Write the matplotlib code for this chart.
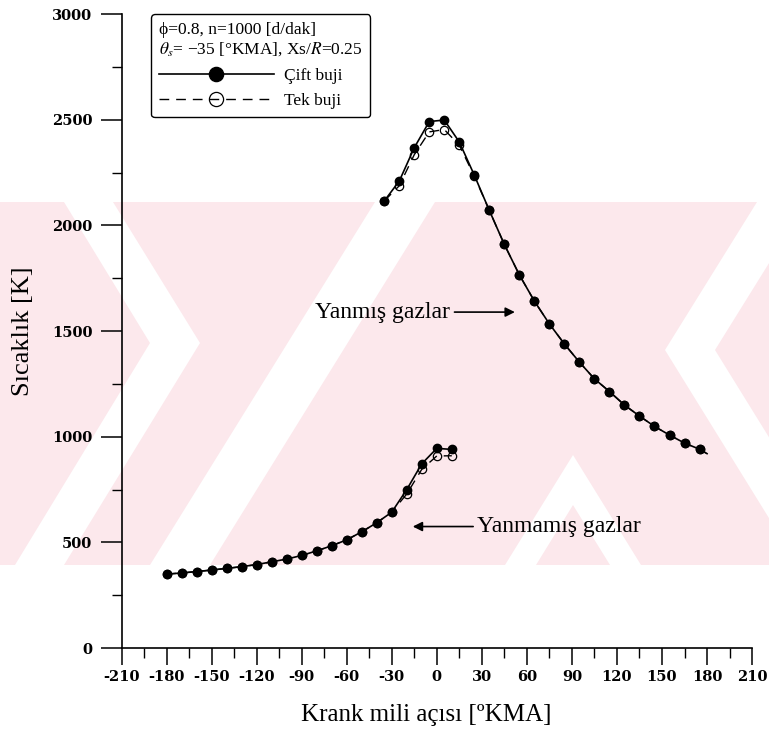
import numpy as np
import matplotlib
matplotlib.use("Agg")
import matplotlib.pyplot as plt
from matplotlib.patches import Polygon, Rectangle

plt.rcParams['font.family'] = ['Liberation Serif', 'DejaVu Serif']
plt.rcParams['mathtext.fontset'] = 'stix'
plt.rcParams['axes.unicode_minus'] = False

# Yanmış gazlar (burned zone), every 10 deg, last point only for the line end
aci_yanmis = [-35, -25, -15, -5, 5, 15, 25, 35, 45, 55, 65, 75, 85, 95, 105,
              115, 125, 135, 145, 155, 165, 175, 180]
cift_yanmis = [2116, 2210, 2368, 2492, 2499, 2395, 2238, 2071, 1910, 1766, 1642,
               1534, 1439, 1353, 1274, 1214, 1150, 1098, 1049, 1008, 970, 941, 920]
tek_yanmis = [2116, 2188, 2335, 2443, 2454, 2380, 2233, 2071, 1910, 1766, 1642,
              1534, 1439, 1353, 1274, 1214, 1150, 1098, 1049, 1008, 970, 941, 920]

# Yanmamış gazlar (unburned zone)
aci_yanmamis = [-180, -170, -160, -150, -140, -130, -120, -110, -100, -90, -80,
                -70, -60, -50, -40, -30, -20, -10, 0, 10]
cift_yanmamis = [350, 355, 362, 369, 377, 385, 395, 408, 421, 438, 460, 484, 512,
                 550, 593, 643, 750, 872, 945, 940]
tek_yanmamis = [350, 355, 362, 369, 377, 385, 395, 408, 421, 438, 460, 484, 512,
                550, 593, 643, 729, 846, 909, 910]

x_ticks = list(range(-210, 211, 30))
y_ticks = list(range(0, 3001, 500))

fig = plt.figure(figsize=(7.69, 7.47), dpi=100)

# pembe filigran bandi, piksel koordinatlarinda
bg = fig.add_axes([0, 0, 1, 1], zorder=-1)
bg.set_xlim(0, 769)
bg.set_ylim(747, 0)
bg.axis('off')
pembe = '#fce8ec'
bg.add_patch(Rectangle((0, 202), 769, 363, color=pembe, lw=0))
beyaz_seritler = [
    [(64, 202), (113, 202), (200, 343), (64, 565), (15, 565), (150, 343)],
    [(757, 202), (807, 202), (715, 350), (848, 565), (798, 565), (665, 350)],
    [(150, 565), (210, 565), (435, 202), (375, 202)],
    [(505, 565), (573, 455), (641, 565), (610, 565), (573, 505), (536, 565)],
]
for s in beyaz_seritler:
    bg.add_patch(Polygon(s, closed=True, color='white', lw=0))

ax = fig.add_axes([0.158, 0.1325, 0.82, 0.8485])
ax.set_facecolor('none')

ms = 6
tek1, = ax.plot(aci_yanmis, tek_yanmis, color='k', lw=1.0, ls=(0, (7, 5)),
                marker='o', ms=ms, mfc='none', mec='k', mew=0.9,
                markevery=slice(0, -1), zorder=2, label='Tek buji')
ax.plot(aci_yanmamis, tek_yanmamis, color='k', lw=1.0, ls=(0, (7, 5)),
        marker='o', ms=ms, mfc='none', mec='k', mew=0.9, zorder=2)
cift1, = ax.plot(aci_yanmis, cift_yanmis, color='k', lw=1.2, marker='o', ms=ms,
                 mfc='k', mec='k', markevery=slice(0, -1), zorder=3,
                 label='Çift buji')
ax.plot(aci_yanmamis, cift_yanmamis, color='k', lw=1.2, marker='o', ms=ms,
        mfc='k', mec='k', zorder=3)

ax.set_xlim(-210, 210)
ax.set_ylim(0, 3000)
ax.set_xticks(x_ticks)
ax.set_xticks(np.arange(-210, 211, 15), minor=True)
ax.set_yticks(y_ticks)
ax.set_yticks(np.arange(0, 3001, 250), minor=True)
ax.spines['top'].set_visible(False)
ax.spines['right'].set_visible(False)
for sp in ('left', 'bottom'):
    ax.spines[sp].set_linewidth(1.2)

ax.tick_params(axis='y', which='major', direction='out', length=15, width=1.1, pad=6)
ax.tick_params(axis='x', which='major', direction='out', length=12, width=1.1, pad=4)
ax.tick_params(which='minor', direction='out', length=7, width=1.0)
for lab in ax.get_xticklabels() + ax.get_yticklabels():
    lab.set_family('DejaVu Serif')
    lab.set_fontweight('bold')
    lab.set_fontsize(10.5)

ax.set_xlabel('Krank mili açısı [ºKMA]', fontsize=18)
ax.set_ylabel('Sıcaklık [K]', fontsize=19)
ax.xaxis.set_label_coords(0.484, -0.088)
ax.yaxis.set_label_coords(-0.139, 0.5)

ok = dict(arrowstyle='-|>', color='k', lw=1.2, mutation_scale=14,
          shrinkA=1, shrinkB=0)
ax.annotate('Yanmış gazlar', xy=(52, 1590), xytext=(9, 1590), ha='right',
            va='center', fontsize=17, arrowprops=ok)
ax.annotate('Yanmamış gazlar', xy=(-16, 575), xytext=(27, 575), ha='left',
            va='center', fontsize=17, arrowprops=ok)

baslik = 'ϕ=0.8, n=1000 [d/dak]\n$\\theta_s$= −35 [°KMA], Xs/$R$=0.25'
leg = ax.legend(handles=[cift1, tek1], loc='upper left',
                bbox_to_anchor=(0.047, 1.0), borderaxespad=0, title=baslik,
                alignment='left', fontsize=12.5, title_fontsize=12.5,
                handlelength=6.6, handletextpad=0.6, markerscale=1.7,
                labelspacing=0.5, fancybox=True, framealpha=1,
                edgecolor='k', borderpad=0.45)
leg.get_frame().set_linewidth(1.0)
leg._legend_box.sep = 7

fig.savefig('out.png', dpi=100)
